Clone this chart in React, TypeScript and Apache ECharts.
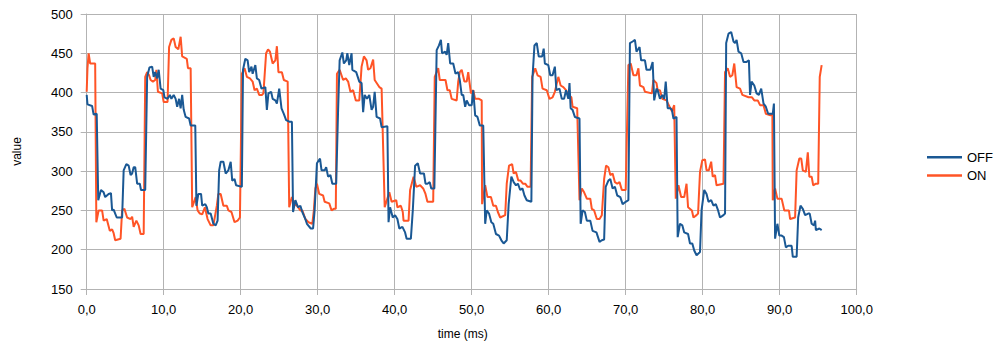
import React, { useEffect, useRef } from "react";
import * as echarts from "echarts";

const offTime = [
  0.0, 0.1, 0.7, 0.9, 1.3, 1.5, 1.85, 2.2, 2.4, 2.85, 3.15, 3.3, 3.5, 3.7, 3.9, 4.6, 4.8, 5.15, 5.45, 5.7, 5.9, 6.1, 6.3, 6.55, 6.9, 7.05, 7.6,
  7.85, 8.15, 8.5, 8.7, 8.9, 9.15, 9.35, 9.6, 9.95, 10.1, 10.5, 10.8, 11.0, 11.3, 11.55, 11.75, 12.0, 12.2, 12.4, 12.6, 12.85, 13.3, 13.5, 14.1,
  14.25, 14.5, 14.85, 15.0, 15.4, 15.6, 15.8, 16.1, 16.45, 16.75, 17.0, 17.2, 17.4, 17.75, 18.05, 18.4, 18.7, 18.9, 19.2, 19.4, 20.15,
  20.3, 20.6, 20.9, 21.1, 21.4, 21.55, 21.9, 22.1, 22.4, 22.7, 23.2, 23.4, 23.6, 23.95, 24.15, 24.5, 24.7, 25.0, 25.3, 25.6, 25.9, 26.3, 26.65,
  26.8, 27.1, 27.45, 27.75, 28.0, 28.4, 28.6, 29.1, 29.4, 29.6, 29.9, 30.3, 30.5, 30.9, 31.1, 31.35, 31.65, 31.9, 32.4,
  32.65, 32.85, 33.2, 33.4, 33.7, 33.85, 34.1, 34.4, 34.5, 35.0, 35.4, 35.7, 35.9, 36.1, 36.4, 36.7, 37.0, 37.2, 37.4, 37.65, 38.1, 38.3, 39.05,
  39.2, 39.4, 39.75, 40.05, 40.35, 40.6, 41.0, 41.35, 41.55, 42.1, 42.35, 42.65, 43.0, 43.3, 43.8, 44.0, 44.25, 44.55, 44.75, 45.15,
  45.45, 45.75, 46.0, 46.15, 46.55, 46.75, 46.95, 47.2, 47.6, 47.9, 48.25, 48.45, 48.7, 48.9, 49.15, 49.35, 49.65, 50.0, 50.2, 50.45, 50.75, 51.05, 51.5,
  51.75, 51.95, 52.25, 52.55, 52.8, 53.15, 53.55, 53.85, 54.15, 54.55, 54.8, 55.15, 55.45, 55.75, 56.0, 56.3, 56.6, 56.85, 57.15, 57.75,
  57.9, 58.15, 58.45, 58.7, 59.15, 59.35, 59.5, 59.95, 60.2, 60.5, 60.8, 61.0, 61.4, 61.7, 62.0, 62.25, 62.55, 62.7, 62.85, 63.1, 63.4, 64.0,
  64.15, 64.4, 64.7, 64.95, 65.4, 65.7, 66.2, 66.6, 66.9, 67.2, 67.4, 67.75, 68.0, 68.3, 68.6, 68.9, 69.3, 69.6, 70.0, 70.35,
  70.55, 70.9, 71.2, 71.4, 71.8, 72.0, 72.5, 72.7, 73.2, 73.5, 73.7, 74.0, 74.15, 74.45, 74.75, 75.0, 75.2, 75.45, 75.8, 76.0, 76.2, 76.6,
  76.75, 77.05, 77.35, 77.6, 78.1, 78.35, 78.65, 78.9, 79.2, 79.65, 79.85, 80.2, 80.5, 80.75, 81.1, 81.4, 81.7, 82.0, 82.25, 82.7, 82.9,
  83.05, 83.35, 83.7, 84.0, 84.2, 84.4, 84.65, 85.0, 85.3, 85.7, 86.0, 86.15, 86.35, 86.7, 87.0, 87.3, 87.6, 87.9, 88.2, 88.5, 88.9, 89.1, 89.25,
  89.4, 89.7, 89.95, 90.25, 90.55, 90.8, 91.1, 91.55, 91.7, 92.2, 92.4, 92.7, 93.0, 93.3, 93.7, 93.9, 94.15, 94.45, 94.6, 94.7, 95.15, 95.45,
];
const offValue = [
  397, 385, 383, 372, 373, 263, 276, 273, 267, 271, 272, 250, 251, 246, 241, 241, 301, 309, 307, 295, 297, 305, 305, 284, 284, 276, 276,
  420, 432, 433, 420, 426, 418, 429, 405, 403, 394, 392, 397, 392, 397, 392, 382, 392, 380, 397, 378, 369, 367, 358, 358,
  256, 271, 271, 256, 258, 254, 246, 246, 233, 231, 237, 301, 312, 312, 297, 301, 312, 288, 290, 282, 280,
  429, 443, 441, 426, 433, 424, 435, 418, 416, 405, 407, 378, 399, 401, 392, 390, 386, 405, 380, 373, 365, 363, 363,
  248, 263, 254, 256, 248, 239, 233, 227, 227, 250, 310, 316, 301, 301, 305, 293, 295, 284, 284,
  378, 441, 451, 437, 441, 450, 435, 450, 429, 426, 414, 412, 375, 397, 392, 397, 378, 382, 401, 369, 367, 356, 357,
  235, 254, 241, 244, 239, 227, 229, 222, 214, 214, 250, 307, 310, 297, 297, 284, 284, 286, 278, 278,
  454, 460, 467, 450, 452, 448, 463, 437, 437, 424, 426, 416, 397, 397, 382, 390, 384, 384, 403, 371, 369, 358, 358,
  233, 250, 246, 235, 233, 220, 218, 212, 208, 212, 258, 293, 286, 282, 284, 276, 278, 269, 263, 261,
  420, 460, 463, 446, 446, 456, 437, 435, 422, 422, 433, 403, 405, 392, 392, 403, 392, 412, 380, 378, 369, 367,
  233, 250, 248, 237, 237, 224, 222, 210, 212, 213, 280, 288, 290, 278, 280, 269, 267, 258, 261, 263,
  463, 465, 467, 452, 458, 441, 441, 429, 429, 439, 390, 405, 403, 392, 397, 392, 414, 380, 380, 378, 367, 369,
  216, 233, 231, 222, 220, 208, 208, 199, 193, 197, 250, 276, 271, 261, 263, 256, 258, 250, 241, 244, 246,
  463, 475, 477, 465, 463, 467, 452, 450, 439, 439, 441, 397, 414, 409, 399, 397, 405, 386, 382, 373, 373, 373, 386,
  214, 233, 218, 218, 216, 203, 205, 205, 191, 191, 241, 256, 252, 244, 246, 246, 233, 231, 237, 225, 227, 225,
];

const onTime = [
  0.0, 0.1, 0.25, 0.45, 1.1, 1.25, 1.55, 2.0, 2.2, 2.6, 3.0, 3.3, 3.5, 3.7, 4.4, 4.6, 4.9, 5.25, 5.7, 5.9, 6.1, 6.45, 6.75, 7.0, 7.4,
  7.6, 7.85, 8.1, 8.3, 8.6, 8.9, 9.05, 9.25, 9.8, 10.0, 10.5, 10.7, 11.0, 11.3, 11.55, 11.9, 12.2, 12.4, 13.0, 13.15, 13.5,
  13.7, 14.15, 14.4, 14.7, 15.0, 15.35, 15.7, 16.1, 16.45, 16.9, 17.1, 17.4, 17.75, 18.2, 18.4, 18.8, 19.2, 19.6, 19.9,
  20.15, 20.5, 20.8, 21.2, 21.55, 21.8, 22.1, 22.4, 22.75, 22.95, 23.3, 23.55, 23.8, 24.15, 24.5, 24.7, 24.9, 25.35, 25.6, 26.1,
  26.3, 26.65, 27.0, 27.3, 27.75, 28.0, 28.4, 28.8, 29.3, 29.5, 29.7, 29.9, 30.2, 30.7, 30.9, 31.5, 31.8, 32.1, 32.35,
  32.5, 32.85, 33.3, 33.65, 33.95, 34.25, 34.6, 34.95, 35.4, 35.7, 36.0, 36.35, 36.55, 36.85, 37.2, 37.4, 38.0, 38.3,
  38.7, 39.3, 39.6, 40.2, 40.35, 40.8, 41.05, 41.15, 41.8, 42.0, 42.45, 42.8, 43.3, 43.7, 44.0, 44.25, 45.0,
  45.2, 45.65, 45.85, 46.6, 46.85, 47.15, 47.4, 48.05, 48.25, 48.45, 48.7, 49.05, 49.35, 49.55, 49.9, 50.2, 50.45, 50.95, 51.3,
  51.35, 51.75, 52.05, 52.5, 52.8, 53.15, 53.4, 53.7, 54.35, 54.55, 54.85, 55.25, 55.45, 55.75, 56.05, 56.35, 56.65, 56.95, 57.25, 57.65,
  57.85, 58.25, 58.55, 58.95, 59.2, 59.75, 60.1, 60.5, 60.8, 61.25, 61.55, 61.9, 62.25, 62.55, 62.95, 63.1, 63.7,
  64.0, 64.3, 64.6, 64.95, 65.4, 65.6, 65.9, 66.25, 66.6, 66.9, 67.2, 67.45, 67.75, 68.0, 68.3, 68.6, 68.9, 69.2, 69.5, 70.0,
  70.35, 70.65, 71.0, 71.4, 71.65, 71.85, 72.3, 72.5, 73.4, 73.6, 74.0, 74.15, 74.45, 74.75, 75.3, 75.6, 76.0, 76.3,
  76.5, 76.85, 77.2, 77.6, 77.9, 78.1, 78.6, 78.8, 79.2, 79.4, 79.65, 79.95, 80.3, 80.5, 80.8, 81.1, 81.3, 81.6, 81.8, 82.7,
  82.9, 83.25, 83.55, 83.85, 84.1, 84.4, 84.85, 85.15, 85.95, 86.4, 86.7, 87.15, 87.45, 87.9, 88.2, 88.8, 89.05,
  89.1, 89.4, 89.7, 90.25, 90.6, 91.2, 91.35, 92.0, 92.2, 92.55, 92.8, 93.0, 93.4, 93.65, 93.85, 94.15, 94.35, 94.7, 95.0,
  95.2, 95.45,
];
const onValue = [
  401, 431, 450, 437, 437, 235, 250, 250, 237, 239, 224, 226, 221, 212, 214, 250, 252, 241, 239, 242, 229, 237, 231, 220, 220,
  420, 426, 422, 416, 414, 416, 429, 401, 399, 388, 388, 458, 467, 469, 458, 455, 471, 446, 443, 431, 431,
  254, 267, 250, 246, 245, 254, 239, 231, 231, 256, 271, 271, 256, 256, 250, 248, 235, 237, 241,
  424, 431, 420, 418, 414, 403, 405, 397, 397, 399, 450, 455, 452, 437, 441, 459, 426, 426, 416, 414,
  254, 267, 258, 256, 250, 250, 239, 235, 233, 250, 278, 284, 271, 269, 261, 259, 250, 252, 252,
  424, 429, 416, 418, 414, 401, 403, 390, 390, 433, 446, 441, 429, 431, 442, 416, 407, 405,
  254, 273, 261, 263, 254, 256, 248, 237, 237, 276, 293, 280, 282, 278, 271, 261, 261,
  420, 431, 416, 416, 403, 403, 392, 390, 414, 426, 429, 414, 414, 426, 399, 403, 392, 392, 390,
  258, 282, 267, 267, 256, 256, 248, 241, 244, 284, 307, 309, 297, 299, 288, 288, 284, 284, 280, 280,
  420, 431, 422, 420, 405, 403, 392, 394, 401, 420, 409, 407, 403, 397, 394, 382, 380,
  263, 278, 273, 265, 265, 252, 250, 239, 239, 244, 290, 307, 305, 295, 297, 286, 284, 286, 276, 276,
  435, 437, 422, 422, 431, 409, 407, 401, 399, 416, 412, 403, 403, 392, 390, 384, 376, 384,
  265, 282, 267, 267, 284, 254, 250, 241, 244, 246, 299, 314, 315, 301, 301, 312, 293, 295, 282, 284,
  426, 431, 420, 422, 437, 407, 405, 397, 394, 394, 390, 390, 384, 384, 373, 371, 373,
  263, 278, 265, 265, 250, 250, 239, 241, 301, 316, 316, 301, 299, 324, 293, 293, 282, 284, 284,
  420, 435,
];

const xTicks = { min: 0, max: 100, interval: 10 };
const yTicks = { min: 150, max: 500, interval: 50 };
const seriesNames = ["OFF", "ON"];
const seriesColors = ["#1a5894", "#ff5426"];

const zip = (t: number[], v: number[]) => t.map((x, i) => [x, v[i]]);

export default function App() {
  const ref = useRef<HTMLDivElement>(null);
  useEffect(() => {
    if (!ref.current) return;
    const chart = echarts.init(ref.current, null, { renderer: "svg" });
    const font = "'Liberation Sans', Arial, sans-serif";
    const grey = "#b3b3b3";
    chart.setOption({
      animation: false,
      textStyle: { fontFamily: font },
      grid: { left: 86.7, right: 140.3, top: 14, bottom: 65 },
      legend: {
        orient: "vertical",
        left: 922,
        top: 145.7,
        icon: "rect",
        itemWidth: 35,
        itemHeight: 2.5,
        itemGap: 5.2,
        textStyle: { fontSize: 13, color: "#000", fontFamily: font },
        data: seriesNames,
      },
      xAxis: {
        type: "value",
        ...xTicks,
        name: "time (ms)",
        nameLocation: "middle",
        nameGap: 39,
        nameTextStyle: { fontSize: 12, color: "#000", fontFamily: font, padding: [0, 18, 0, 0] },
        axisLine: { show: true, lineStyle: { color: grey } },
        axisTick: { show: true, length: 6, lineStyle: { color: grey } },
        axisLabel: {
          fontSize: 13,
          color: "#000",
          margin: 14,
          formatter: (v: number) => v.toFixed(1).replace(".", ","),
        },
        splitLine: { show: true, lineStyle: { color: grey } },
      },
      yAxis: {
        type: "value",
        ...yTicks,
        name: "value",
        nameLocation: "middle",
        nameRotate: 90,
        nameGap: 64,
        nameTextStyle: { fontSize: 12, color: "#000", fontFamily: font },
        axisLine: { show: true, lineStyle: { color: grey } },
        axisTick: { show: true, length: 6, lineStyle: { color: grey } },
        axisLabel: { fontSize: 13, color: "#000", margin: 14 },
        splitLine: { show: true, lineStyle: { color: grey } },
      },
      series: [
        {
          name: seriesNames[0],
          type: "line",
          data: zip(offTime, offValue),
          symbol: "none",
          color: seriesColors[0],
          lineStyle: { width: 2, color: seriesColors[0] },
          z: 3,
        },
        {
          name: seriesNames[1],
          type: "line",
          data: zip(onTime, onValue),
          symbol: "none",
          color: seriesColors[1],
          lineStyle: { width: 2, color: seriesColors[1] },
          z: 2,
        },
      ],
    });
    return () => chart.dispose();
  }, []);
  return <div ref={ref} style={{ width: 997, height: 354, position: "absolute", left: 0, top: 0 }} />;
}
